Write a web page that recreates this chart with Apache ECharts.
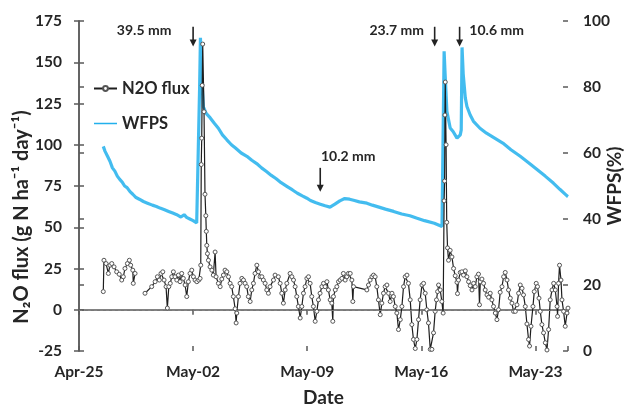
<!DOCTYPE html>
<html><head><meta charset="utf-8">
<script src="https://cdn.jsdelivr.net/npm/echarts@6/dist/echarts.min.js"></script>
<style>html,body{margin:0;padding:0;background:#fff}#c{width:624px;height:407px}</style>
</head><body><div id="c"></div>
<script>
// ---- data (x = days after Apr-25) ----
const xTickLabels = ['Apr-25','May-02','May-09','May-16','May-23'];

const n2oDay = [1.49,1.53,1.66,1.80,1.90,2.01,2.15,2.31,2.47,2.62,2.72,2.82,2.97,3.09,3.17,3.30,3.33,3.44,3.70,
4.05,4.46,4.67,4.81,4.93,5.03,5.14,5.22,5.34,5.42,5.51,5.60,5.69,5.79,5.89,6.00,6.10,6.20,6.30,6.40,6.51,6.61,6.71,6.81,6.92,7.02,7.12,7.23,7.35,7.43,
7.47,7.50,7.53,7.56,7.59,7.67,7.73,7.78,7.81,7.84,7.88,7.94,8.04,8.15,8.24,8.35,8.41,8.55,8.66,8.76,8.86,8.96,9.07,9.17,9.27,9.37,9.47,9.58,9.64,9.68,9.78,9.88,9.99,
10.09,10.19,10.29,10.39,10.50,10.60,10.70,10.80,10.91,11.01,11.11,11.22,11.31,11.42,11.52,11.62,11.72,11.93,12.03,12.23,12.34,12.44,12.54,12.65,12.75,12.95,13.06,13.16,13.26,13.36,13.46,13.57,13.67,13.77,13.87,13.98,
14.08,14.18,14.28,14.38,14.49,14.59,14.69,14.79,14.90,15.00,15.10,15.21,15.30,15.41,15.51,15.57,15.61,15.72,15.82,15.92,16.02,16.13,16.22,16.33,16.43,16.53,16.64,16.74,16.80,16.84,
17.66,17.76,17.86,17.97,18.07,18.17,18.27,18.37,18.48,18.58,18.68,18.78,18.89,18.99,19.09,19.20,19.29,19.40,19.50,19.60,19.71,19.81,19.91,20.01,20.12,20.21,20.32,20.42,20.52,20.63,20.73,20.83,20.93,
21.04,21.14,21.24,21.34,21.44,21.55,21.65,21.75,21.85,21.93,22.00,22.06,22.16,22.26,22.34,22.40,22.43,22.45,22.47,22.52,22.56,22.61,22.67,22.77,22.88,22.98,23.08,23.19,23.22,23.28,23.39,23.49,23.59,23.70,23.80,23.90,
24.00,24.11,24.21,24.31,24.41,24.51,24.57,24.62,24.72,24.82,24.92,25.03,25.13,25.23,25.33,25.43,25.54,25.64,25.74,25.84,25.95,26.05,26.15,26.26,26.35,26.46,26.56,26.66,26.77,26.87,26.97,
27.07,27.18,27.27,27.38,27.48,27.58,27.64,27.73,27.85,27.93,28.05,28.13,28.22,28.30,28.40,28.50,28.61,28.71,28.81,28.91,29.02,29.12,29.22,29.33,29.36,29.42,29.48,29.57,29.63,29.73,29.83,29.94,30.00];

const n2oFlux = [11,30,28,22,27,28,26,23,21.5,18,20,25,28,30,27,24,16,22,null,
10,14,17,20,18,22,23,18,14,1,14,16,20,23,20,18,21,17,22,19,15,8,17,22,24,20,18,17,18,19,
27,88,104,136,161,120,70,57,47.5,39,34,30,26,24,21,35,20,16,14,18.6,21,24,23,20,16,14,8,0.6,-8,-2,8,16,19,
18,16,14,8,5,12,16,22,27,23,20,20,18,16,12,10,14,18,21,20,16,10,4,12,16,22,20,18,14,8,2,-5,2,10,14,19,
20,16,8,2,-7,-1,6,10,14,16,14,17,12,6,4,-7,8,12,14,17,18,19,22,18,20,22,22,18,5,14,
12,15,18,20,21,20,14,6,-3,4,10,14,15,10,5,10,8,2,-2,-12,-6,2,14,20,21,16,6,-9,-18,-23.5,-18,-6,6,
15,16,10,0,-8,-24,-24,-14,-1,6,11,15,12,5,-2,66,78,118,138,100,53,37.5,30,36,32,25,20.6,16.6,9.8,18,22.6,23,21,23.6,20,17,
14.6,12,16,14,20,21.6,3,17,18.6,16,12,9,7.6,10,6,2,-2,-6,0,10.6,14,20,22.6,18,12,7,4,-1,-1,3,10,
15,13,9,2,-8.6,-18,-22,-10,2,11,16,14,7,-1,-9,-14,-20,-24.4,-12,6,12,16,12,2,-4,16,27,18,6,-1,-10,-2,1];

const wfpsDay = [1.49,1.60,1.75,1.90,2.05,2.20,2.35,2.50,2.65,2.80,2.95,3.13,3.30,3.50,3.70,3.95,4.20,4.50,4.75,4.97,5.25,5.50,5.75,6.00,6.25,6.45,6.60,6.80,7.00,7.22,7.32,
7.40,7.45,7.52,7.63,7.80,8.04,8.30,8.55,8.80,9.07,9.35,9.60,9.95,10.30,10.60,10.90,11.20,11.50,11.80,12.10,12.40,12.75,13.10,13.40,13.70,13.98,14.20,14.50,14.80,15.10,15.40,15.70,16.00,16.30,16.60,16.90,17.20,17.66,18.00,18.40,18.80,19.30,19.80,20.30,20.70,21.20,21.80,22.27,22.36,
22.40,22.46,22.57,22.77,22.95,23.19,23.39,23.45,23.50,23.57,23.70,23.80,24.00,24.20,24.60,25.00,25.50,26.00,26.50,27.07,27.60,28.10,28.60,29.10,29.50,29.94,30.00];

const wfpsPct = [62,60.5,59,57.5,55.5,54.5,53,52,51.2,50,49.5,48.3,47.5,46.5,46,45.3,44.8,44.2,43.8,43.3,42.8,42.3,41.8,41.3,40.6,41.3,40.5,40,39.5,38.8,38.5,
80,94.9,84,74,72,70.7,69,67.5,65.5,64,62.5,61.5,60,59,57.8,56.8,55.5,54.4,53.2,52.2,51,49.9,48.8,47.8,47,46.3,45.6,45,44.5,44,43.6,44.5,45.5,46.2,46,45.6,45.2,44.8,44.2,43.6,43,42.3,41.5,41,40.3,39.5,38.7,37.7,38,
90.8,84,72.6,67.6,66.5,64.5,65.5,67,92,84,76.7,74.1,71.5,69.6,67.5,66,64.5,63,61,59,57,55,53,50.9,49,47,46.8];

// rainfall annotations
const rainDay = [7.0, 14.8, 21.82, 23.35];
const rainLabel = ['39.5 mm', '10.2 mm', '23.7 mm', '10.6 mm'];
const rainArrowTop = [171.5, 86, 171.5, 171.5];   // in flux units
const rainArrowTip = [159.5, 71.5, 159.5, 159.5];

// ---- style ----
const FONT = 'Lato';
const AX = '#5a5a5a';
const BLUE = '#22b0ec';
const labelOffset = [[-49, 4], [28, -11], [-38, 4], [37, 4]];

const chart = echarts.init(document.getElementById('c'), null, {renderer: 'canvas'});

const axisCommon = {
  axisLine: {show: true, lineStyle: {color: AX, width: 1.5}},
  axisTick: {show: true, length: 5, lineStyle: {color: AX, width: 1.5}},
  splitLine: {show: false}
};
const innerTick = {show: true, inside: true, length: 5, lineStyle: {color: AX, width: 1.5}};
const labelStyle = {fontFamily: FONT, fontWeight: 'bold', fontSize: 15.5, color: '#262626'};
const wfpsIcon = 'path://M0,0 L0.01,0 L0,0.01 Z M0,2.2 L24,2.2 L24,3.8 L0,3.8 Z M24,6 L23.99,6 L24,5.99 Z';

const option = {
  animation: false,
  backgroundColor: '#fff',
  grid: {left: 79, right: 56, top: 21, bottom: 56, containLabel: false, outerBoundsMode: 'none'},
  legend: {
    data: [{name: 'N2O flux'},
           {name: 'WFPS', icon: wfpsIcon, itemStyle: {color: BLUE, borderWidth: 0, opacity: 1}, lineStyle: {width: 0}}],
    orient: 'vertical', left: 88, top: 75, itemWidth: 23, itemHeight: 6, itemGap: 18,
    textStyle: {fontFamily: FONT, fontWeight: 'bold', fontSize: 16.5, color: '#262626'}
  },
  xAxis: [
    Object.assign({}, axisCommon, {
      type: 'value', min: 0, max: 30, interval: 7, position: 'bottom',
      axisLabel: Object.assign({}, labelStyle, {margin: 13, formatter: v => (v % 7 === 0 ? xTickLabels[v / 7] : '')}),
      name: 'Date', nameLocation: 'middle', nameGap: 37, nameMoveOverlap: false,
      nameTextStyle: {fontFamily: FONT, fontWeight: 'bold', fontSize: 19, color: '#262626'}
    }),
    Object.assign({}, axisCommon, {
      type: 'value', min: 0, max: 30, interval: 7, position: 'bottom',
      axisLine: {show: false}, axisTick: innerTick, axisLabel: {show: false}
    })
  ],
  yAxis: [
    Object.assign({}, axisCommon, {
      type: 'value', min: -25, max: 175, interval: 25, position: 'left',
      axisLabel: Object.assign({}, labelStyle, {margin: 17}),
      name: 'N₂O flux (g N ha⁻¹ day⁻¹)', nameLocation: 'middle', nameGap: 47, nameMoveOverlap: false,
      nameTextStyle: {fontFamily: FONT, fontWeight: 'bold', fontSize: 20, color: '#262626', padding: [0, 62, 0, 0]}
    }),
    Object.assign({}, axisCommon, {
      type: 'value', min: 0, max: 100, interval: 20, position: 'right',
      axisLabel: Object.assign({}, labelStyle, {margin: 15}),
      name: 'WFPS(%)', nameLocation: 'middle', nameGap: 37, nameMoveOverlap: false,
      nameTextStyle: {fontFamily: FONT, fontWeight: 'bold', fontSize: 19, color: '#262626'}
    }),
    Object.assign({}, axisCommon, {
      type: 'value', min: -25, max: 175, interval: 25, position: 'left',
      axisLine: {show: false}, axisTick: innerTick, axisLabel: {show: false}
    }),
    Object.assign({}, axisCommon, {
      type: 'value', min: 0, max: 100, interval: 20, position: 'right',
      axisLine: {show: false}, axisTick: innerTick, axisLabel: {show: false}
    })
  ],
  series: [
    {
      name: 'WFPS', type: 'line', xAxisIndex: 0, yAxisIndex: 1,
      data: wfpsDay.map((d, i) => [d, wfpsPct[i]]),
      showSymbol: false,
      lineStyle: {color: BLUE, width: 3.2, opacity: 0.85},
      itemStyle: {color: BLUE}, z: 2
    },
    {
      name: 'N2O flux', type: 'line', xAxisIndex: 0, yAxisIndex: 0,
      data: n2oDay.map((d, i) => [d, n2oFlux[i]]),
      symbol: 'circle', symbolSize: 4, showSymbol: true, showAllSymbol: true,
      lineStyle: {color: '#1e1e1e', width: 1.2},
      itemStyle: {color: '#ffffff', borderColor: '#555', borderWidth: 1},
      z: 3,
      markLine: {
        silent: true, symbol: 'none', label: {show: false},
        lineStyle: {color: '#777', type: [3, 3], width: 1},
        data: [{yAxis: 0}]
      }
    }
  ]
};
chart.setOption(option);

// rainfall arrows & labels, positioned from data coordinates
const g = [];
rainDay.forEach((d, i) => {
  const top = chart.convertToPixel({xAxisIndex: 0, yAxisIndex: 0}, [d, rainArrowTop[i]]);
  const tip = chart.convertToPixel({xAxisIndex: 0, yAxisIndex: 0}, [d, rainArrowTip[i]]);
  g.push({type: 'line', shape: {x1: top[0], y1: top[1], x2: tip[0], y2: tip[1] - 5},
          style: {stroke: '#222', lineWidth: 1.6}, z: 10});
  g.push({type: 'polygon', shape: {points: [[tip[0] - 3.5, tip[1] - 7], [tip[0] + 3.5, tip[1] - 7], [tip[0], tip[1]]]},
          style: {fill: '#222'}, z: 10});
  g.push({type: 'text', x: top[0] + labelOffset[i][0], y: top[1] + labelOffset[i][1],
          style: {text: rainLabel[i], fill: '#262626', font: 'bold 14px ' + FONT, align: 'center', verticalAlign: 'middle'}, z: 10});
});
chart.setOption({graphic: g});
</script></body></html>
